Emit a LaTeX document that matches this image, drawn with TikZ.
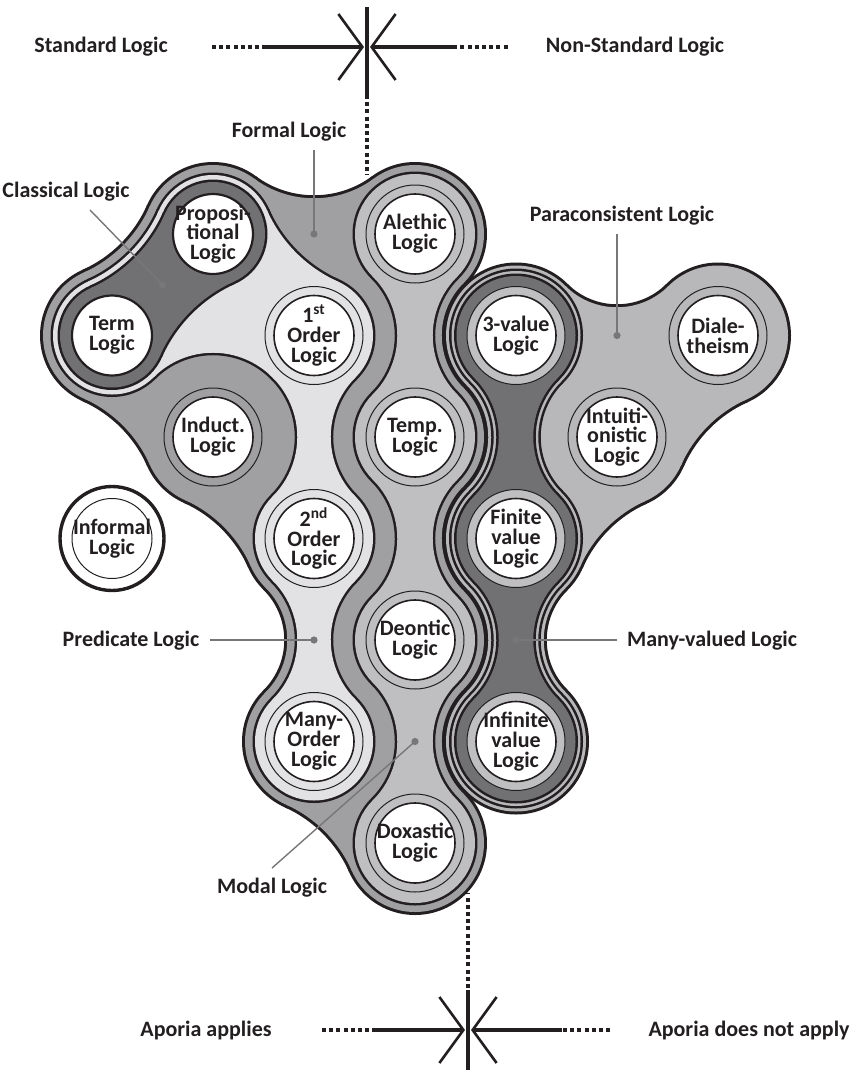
\documentclass[tikz,border=0pt]{standalone}
\usepackage{fontspec}
\setmainfont{Carlito}
\usetikzlibrary{arrows.meta,calc}
\definecolor{ink}{HTML}{231F20}
\definecolor{formalGray}{HTML}{A0A0A2}
\definecolor{modalGray}{HTML}{BFBFC1}
\definecolor{paraGray}{HTML}{B8B8BA}
\definecolor{predGray}{HTML}{E2E2E4}
\definecolor{darkGray}{HTML}{717173}
\definecolor{pointGray}{HTML}{77777A}
\pgfdeclarelayer{blobs}
\pgfdeclarelayer{discs}
\pgfsetlayers{blobs,discs,main}

\newcommand{\nodefont}{\fontsize{11}{9.9}\selectfont\bfseries}
\newcommand{\lblfont}{\fontsize{11}{12}\selectfont\bfseries}

% concave neck between two members: K = distance member -> fillet centre (px), r = radius (px)
\newcommand{\neck}[5][]{%
  \path[#1] let \p1=(#2), \p2=(#3),
    \n1={atan2(\y2-\y1,\x2-\x1)},
    \n2={acos(veclen(\x2-\x1,\y2-\y1)/(#4))},
    \n3={(#5)*0.5}, \n4={(#4-#5)*0.5} in
    (\p1) ++({\n1+\n2}:{\n3 pt})
    arc[start angle={\n1+\n2+180}, end angle={\n1+360-\n2}, radius={\n4 pt}]
    -- (\p2) -- ++({\n1+180+\n2}:{\n3 pt})
    arc[start angle={\n1+\n2}, end angle={\n1+180-\n2}, radius={\n4 pt}]
    -- (\p1) -- cycle;}
% one region: circles round the members plus the necks
\newcommand{\blob}[4]{%
  \foreach \member in #3 {\fill[#2] (\member) circle[radius={#1*0.5pt}];}
  \foreach \ndA/\ndB/\kval in #4 {\neck[fill=#2]{\ndA}{\ndB}{\kval}{#1}}}

\begin{document}
\begin{tikzpicture}[x=0.5pt, y=-0.5pt,
  logic/.style={align=center, inner sep=0pt, text=ink, font=\nodefont},
  lbl/.style={text=ink, font=\lblfont, inner sep=1pt},
  pointer/.style={draw=pointGray, line width=0.7pt},
  dotline/.style={draw=ink, line width=2pt, dash pattern=on 2pt off 1.6pt},
  solidline/.style={draw=ink, line width=2pt},
  barb/.style={-{Straight Barb[length=12pt, width=33pt, line width=1.3pt]}},
  ringline/.style={draw=ink, line width=0.5pt},
  discline/.style={draw=ink, line width=0.8pt, fill=white}]
\useasboundingbox (0,0) rectangle (857,1071);

% logics
\node[logic] (term) at (112,335.5) {Term\\Logic};
\node[logic] (prop) at (213,234) {Proposi-\\tional\\Logic};
\node[logic] (first) at (314,335.5) {1\textsuperscript{st}\\Order\\Logic};
\node[logic] (induct) at (213,437) {Induct.\\Logic};
\node[logic] (informal) at (112,538.5) {Informal\\Logic};
\node[logic] (second) at (314,538.5) {2\textsuperscript{nd}\\Order\\Logic};
\node[logic] (manyord) at (314,741.5) {Many-\\Order\\Logic};
\node[logic] (alethic) at (415,234) {Alethic\\Logic};
\node[logic] (temp) at (415,437) {Temp.\\Logic};
\node[logic] (deontic) at (415,640) {Deontic\\Logic};
\node[logic] (doxastic) at (415,843) {Doxastic\\Logic};
\node[logic] (three) at (516,335.5) {3-value\\Logic};
\node[logic] (finite) at (516,538.5) {Finite\\value\\Logic};
\node[logic] (infinite) at (516,741.5) {Infinite\\value\\Logic};
\node[logic] (intuit) at (617,437) {Intuiti-\\onistic\\Logic};
\node[logic] (dial) at (718,335.5) {Diale-\\theism};

% regions
\def\formalSet{term,prop,first,induct,second,manyord,alethic,temp,deontic,doxastic}
\def\formalNecks{prop/alethic/170, alethic/temp/143, temp/deontic/143, deontic/doxastic/143,
  doxastic/manyord/200, manyord/second/143, second/induct/200, induct/term/200, term/prop/200}
\def\predSet{term,prop,first,second,manyord}
\def\predNecks{term/prop/200, prop/first/200, term/first/143, first/second/143, second/manyord/143}
\def\classSet{term,prop}
\def\classNecks{term/prop/200}
\def\modalSet{alethic,temp,deontic,doxastic}
\def\modalNecks{alethic/temp/143, temp/deontic/143, deontic/doxastic/143}
\def\paraSet{three,finite,infinite,intuit,dial}
\def\paraNecks{three/dial/143, three/intuit/200, dial/intuit/200, intuit/finite/200,
  three/finite/143, finite/infinite/143}
\def\manySet{three,finite,infinite}
\def\manyNecks{three/finite/143, finite/infinite/143}
\begin{pgfonlayer}{blobs}
% formal logic
\blob{72}{ink}{\formalSet}{\formalNecks}
\blob{69}{formalGray}{\formalSet}{\formalNecks}
\fill[formalGray] (prop.center) -- (alethic.center) -- (temp.center) -- (deontic.center)
  -- (doxastic.center) -- (manyord.center) -- (second.center) -- (induct.center)
  -- (term.center) -- cycle;
% predicate logic
\blob{61.5}{ink}{\predSet}{\predNecks}
\blob{59}{predGray}{\predSet}{\predNecks}
\fill[predGray] (term.center) -- (prop.center) -- (first.center) -- cycle;
% classical logic
\blob{54.5}{ink}{\classSet}{\classNecks}
\blob{52}{darkGray}{\classSet}{\classNecks}
% modal logic
\blob{62.5}{ink}{\modalSet}{\modalNecks}
\blob{60}{modalGray}{\modalSet}{\modalNecks}
% paraconsistent logic
\blob{73}{ink}{\paraSet}{\paraNecks}
\blob{70}{paraGray}{\paraSet}{\paraNecks}
\fill[paraGray] (three.center) -- (dial.center) -- (intuit.center) -- cycle;
\fill[paraGray] (three.center) -- (intuit.center) -- (finite.center) -- cycle;
% many-valued logic, double outline
\blob{67}{ink}{\manySet}{\manyNecks}
\blob{64.5}{paraGray}{\manySet}{\manyNecks}
\blob{62}{ink}{\manySet}{\manyNecks}
\blob{59.5}{darkGray}{\manySet}{\manyNecks}
\end{pgfonlayer}

\begin{pgfonlayer}{discs}
\foreach \nd/\rc in {first/predGray, second/predGray, manyord/predGray, induct/formalGray,
    alethic/modalGray, temp/modalGray, deontic/modalGray, doxastic/modalGray,
    three/modalGray, finite/modalGray, infinite/modalGray, intuit/paraGray, dial/paraGray}
  \draw[ringline, fill=\rc] (\nd) circle[radius=24.5pt];
\foreach \nd in {first,induct,second,manyord,alethic,temp,deontic,doxastic,three,finite,infinite,intuit,dial}
  \draw[discline] (\nd) circle[radius=20pt];
\draw[discline, line width=1.1pt] (term) circle[radius=20pt];
\draw[discline, line width=1.1pt] (prop) circle[radius=20pt];
\draw[discline, line width=1.7pt] (informal) circle[radius=26pt];
\draw[ringline] (informal) circle[radius=20pt];
\end{pgfonlayer}

% labels and pointers
\node[lbl] (formalLbl) at (289,132) {Formal Logic};
\coordinate (formalDot) at ($(prop)!0.5!(alethic)$);
\draw[pointer, shorten <=3pt] (formalLbl.south -| formalDot) -- (formalDot);
\node[lbl] (classLbl) at (66,192) {Classical Logic};
\coordinate (classDot) at ($(term)!0.5!(prop)$);
\draw[pointer] ([xshift=12pt,yshift=-3pt]classLbl.south) -- (classDot);
\node[lbl] (paraLbl) at (622,216) {Paraconsistent Logic};
\coordinate (paraDot) at ($(three)!0.5!(dial)$);
\draw[pointer, shorten <=3pt] (paraLbl.south -| paraDot) -- (paraDot);
\node[lbl] (predLbl) at (131,641) {Predicate Logic};
\coordinate (predDot) at ($(second)!0.5!(manyord)$);
\draw[pointer, shorten <=4pt] (predLbl.east |- predDot) -- (predDot);
\node[lbl] (manyLbl) at (712,641) {Many-valued Logic};
\coordinate (manyDot) at ($(finite)!0.5!(infinite)$);
\draw[pointer, shorten >=4pt] (manyDot) -- (manyLbl.west |- manyDot);
\node[lbl] (modalLbl) at (272,888) {Modal Logic};
\coordinate (modalDot) at ($(deontic)!0.5!(doxastic)$);
\draw[pointer] ([yshift=4pt]modalLbl.north) -- (modalDot);
\foreach \d in {formalDot,classDot,paraDot,predDot,manyDot,modalDot}
  \fill[pointGray] (\d) circle[radius=1.8pt];

% standard / non-standard
\coordinate (topX) at (367,47);
\node[lbl] (std) at (101,47) {Standard Logic};
\node[lbl] (nonstd) at (635,47) {Non-Standard Logic};
\draw[dotline] ([xshift=21pt]std.east) -- ++(52,0) coordinate (stdEnd);
\draw[solidline, barb] (stdEnd) -- ([xshift=-1.5pt]topX);
\draw[dotline] ([xshift=-18pt]nonstd.west) -- ++(-52,0) coordinate (nonstdEnd);
\draw[solidline, barb] (nonstdEnd) -- ([xshift=1.5pt]topX);
\draw[solidline, line width=1.6pt] (topX) ++(0,-40) -- ++(0,88) coordinate (topDown);
\draw[dotline] (topDown) -- ++(0,80);

% aporia
\coordinate (botX) at (468,1030);
\node[lbl] (apYes) at (206,1030) {Aporia applies};
\node[lbl] (apNo) at (749,1030) {Aporia does not apply};
\draw[dotline] ([xshift=24pt]apYes.east) -- ++(54,0) coordinate (apYesEnd);
\draw[solidline, barb] (apYesEnd) -- ([xshift=-1.5pt]botX);
\draw[dotline] ([xshift=-18pt]apNo.west) -- ++(-48,0) coordinate (apNoEnd);
\draw[solidline, barb] (apNoEnd) -- ([xshift=1.5pt]botX);
\draw[solidline, line width=1.6pt] (botX) ++(0,-40) -- ++(0,80);
\draw[dotline] (botX) ++(0,-42) -- ++(0,-95);
\end{tikzpicture}
\end{document}
